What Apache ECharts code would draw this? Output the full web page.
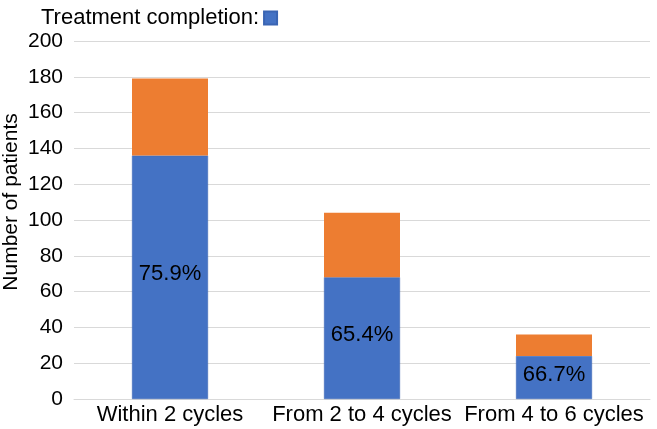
<!DOCTYPE html>
<html>
<head>
<meta charset="utf-8">
<script src="https://cdn.jsdelivr.net/npm/echarts@6/dist/echarts.min.js"></script>
<style>html,body{margin:0;padding:0;background:#fff;}#c{width:657px;height:429px;}</style>
</head>
<body>
<div id="c"></div>
<script>
const categories = ['Within 2 cycles', 'From 2 to 4 cycles', 'From 4 to 6 cycles'];
const completed = [136, 68, 24];
const notCompleted = [43, 36, 12];
const completionLabels = ['75.9%', '65.4%', '66.7%'];
const yTicks = [0, 20, 40, 60, 80, 100, 120, 140, 160, 180, 200];

const FONT = '"Liberation Sans", Arial, sans-serif';
const chart = echarts.init(document.getElementById('c'), null, {renderer: 'canvas'});
chart.setOption({
  animation: false,
  backgroundColor: '#ffffff',
  textStyle: {fontFamily: FONT},
  legend: {
    data: [{name: 'Treatment completion:'}],
    left: 36, top: 2,
    align: 'right',
    itemWidth: 13, itemHeight: 13,
    itemGap: 6,
    icon: 'rect',
    textStyle: {fontFamily: FONT, fontSize: 22, color: '#000', padding: [0, 0, 0, 0]},
    selectedMode: false
  },
  grid: {left: 74, right: 7, top: 41, bottom: 30, containLabel: false, outerBoundsMode: 'none'},
  xAxis: {
    type: 'category',
    data: categories,
    axisLine: {show: true, lineStyle: {color: '#d9d9d9', width: 1}},
    axisTick: {show: false},
    axisLabel: {fontFamily: FONT, fontSize: 22, color: '#000', margin: 5, interval: 0, hideOverlap: false}
  },
  yAxis: {
    type: 'value',
    min: yTicks[0], max: yTicks[yTicks.length - 1], interval: 20,
    name: 'Number of patients',
    nameLocation: 'middle',
    nameGap: 52,
    nameMoveOverlap: false,
    nameTextStyle: {fontFamily: FONT, fontSize: 21, color: '#000', padding: [0, 0, 0, 36]},
    axisLine: {show: false},
    axisTick: {show: false},
    splitLine: {lineStyle: {color: '#d9d9d9', width: 1}},
    axisLabel: {fontFamily: FONT, fontSize: 21, color: '#000', margin: 11}
  },
  series: [
    {
      name: 'Treatment completion:',
      type: 'bar',
      stack: 'total',
      barWidth: 76,
      data: completed,
      itemStyle: {color: '#4472C4', borderColor: '#3a65b3', borderWidth: 0.5},
      label: {
        show: true,
        position: 'inside',
        offset: [0, -3],
        fontFamily: FONT, fontSize: 22, color: '#000',
        formatter: p => completionLabels[p.dataIndex]
      }
    },
    {
      name: 'Not completed',
      type: 'bar',
      stack: 'total',
      barWidth: 76,
      data: notCompleted,
      itemStyle: {color: '#ED7D31'}
    }
  ]
});
</script>
</body>
</html>
